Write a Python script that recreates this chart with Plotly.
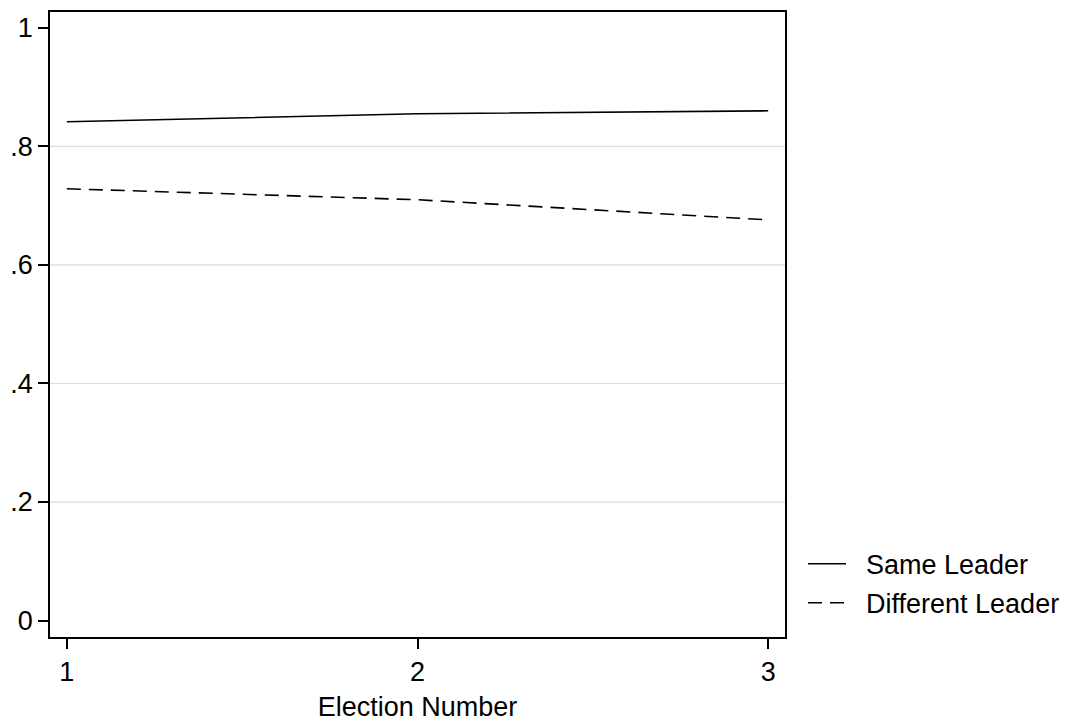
import plotly.graph_objects as go

elections = [1, 2, 3]
same_leader = [0.8415, 0.855, 0.860]
different_leader = [0.7285, 0.710, 0.676]
y_ticks = [0, 0.2, 0.4, 0.6, 0.8, 1]
y_tick_labels = ["0", ".2", ".4", ".6", ".8", "1"]
grid_values = [0.2, 0.4, 0.6, 0.8]

FONT = "Liberation Sans, Arial, sans-serif"
FS = 27
PAD = "\u00a0\u00a0"

fig = go.Figure()
fig.add_trace(go.Scatter(x=elections, y=same_leader, mode="lines", name=PAD + "Same Leader",
                         legendgroup="a",
                         line=dict(color="black", width=1.6)))
fig.add_trace(go.Scatter(x=elections, y=different_leader, mode="lines", name=PAD + "Different Leader",
                         legendgroup="b",
                         line=dict(color="black", width=1.6, dash="14px,8px")))

for g in grid_values:
    fig.add_shape(type="line", xref="paper", yref="y", x0=0, x1=1, y0=g, y1=g,
                  line=dict(color="#dcdcdc", width=1.2), layer="below")

fig.update_layout(
    width=1065, height=714,
    margin=dict(l=42, r=288, t=4, b=85, autoexpand=False),
    plot_bgcolor="white", paper_bgcolor="white",
    font=dict(family=FONT, size=FS, color="black"),
    showlegend=True,
    legend=dict(x=1.0245, xanchor="left", y=0.015, yanchor="bottom",
                font=dict(size=FS), bgcolor="rgba(0,0,0,0)", tracegroupgap=1,
                itemwidth=38),
    xaxis=dict(range=[0.952, 3.048], tickvals=elections, ticktext=[str(e) for e in elections],
               showgrid=False, zeroline=False, showline=True, linecolor="black", linewidth=1.5,
               mirror=True, ticks="outside", ticklen=10, tickwidth=1.5, tickcolor="black",
               title=dict(text="Election Number", standoff=22, font=dict(size=FS))),
    yaxis=dict(range=[-0.0277, 1.0267], tickvals=y_ticks, ticktext=y_tick_labels,
               showgrid=False, zeroline=False, showline=True, linecolor="black", linewidth=1.5,
               mirror=True, ticks="outside", ticklen=10, tickwidth=1.5, tickcolor="black"),
)

fig.write_html("out.html")
